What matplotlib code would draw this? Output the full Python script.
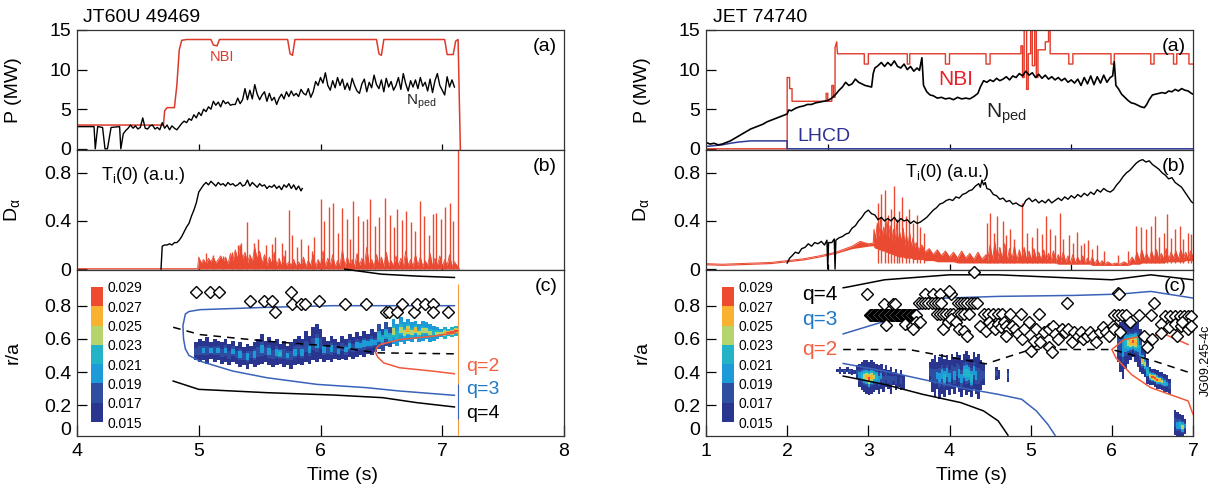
import numpy as np
import matplotlib
matplotlib.use('Agg')
import matplotlib.pyplot as plt
import matplotlib.colorbar as mcolorbar
import matplotlib.transforms as mtransforms
from matplotlib.colors import ListedColormap, BoundaryNorm

plt.rcParams['font.family'] = ['Liberation Sans', 'DejaVu Sans']
plt.rcParams['mathtext.fontset'] = 'custom'
plt.rcParams['mathtext.rm'] = 'Liberation Sans'
plt.rcParams['mathtext.it'] = 'Liberation Sans'
plt.rcParams['mathtext.bf'] = 'Liberation Sans:bold'

RED = '#ea4a32'
NBI_RED = '#dd3a2c'
BLUE_Q3 = '#3a62b8'
RED_Q2 = '#f05a3c'

# ---------------- JT60U 49469 ----------------
jt_nbi_t = [4.00, 4.71, 4.72, 4.74, 4.80, 4.82, 4.84, 4.86, 4.90, 5.10, 5.12, 5.15, 5.17, 5.73, 5.75, 5.77,
            5.79, 6.46, 6.48, 6.50, 6.52, 7.02, 7.04, 7.09, 7.11, 7.13, 7.15]
jt_nbi_p = [3.0, 3.0, 4.8, 5.2, 5.2, 8.0, 12.5, 13.7, 13.8, 13.8, 13.1, 13.0, 13.8, 13.8, 12.0, 11.8,
            13.8, 13.8, 12.0, 11.8, 13.8, 13.8, 11.9, 11.9, 13.6, 13.8, -1.0]

jt_nped_t = [4.00, 4.14, 4.15, 4.17, 4.21, 4.23, 4.25, 4.28, 4.35, 4.36, 4.38, 4.40, 4.42, 4.44, 4.46, 4.48,
             4.50, 4.52, 4.54, 4.56, 4.58, 4.60, 4.62, 4.64, 4.66, 4.68, 4.70, 4.72, 4.74, 4.76, 4.78, 4.80,
             4.82, 4.84, 4.86, 4.88, 4.90, 4.92, 4.94, 4.96, 4.98, 5.00, 5.02, 5.04, 5.06, 5.08, 5.10, 5.12,
             5.14, 5.16, 5.18, 5.20, 5.22, 5.24, 5.26, 5.28, 5.30, 5.32, 5.34, 5.36, 5.38, 5.40, 5.42, 5.44,
             5.46, 5.48, 5.50, 5.52, 5.54, 5.56, 5.58, 5.60, 5.62, 5.64, 5.66, 5.68, 5.70, 5.72, 5.74, 5.76,
             5.78, 5.80, 5.82, 5.84, 5.86, 5.88, 5.90, 5.92, 5.94, 5.96, 5.98, 6.00, 6.02, 6.04, 6.06, 6.08,
             6.10, 6.12, 6.14, 6.16, 6.18, 6.20, 6.22, 6.24, 6.26, 6.28, 6.30, 6.32, 6.34, 6.36, 6.38, 6.40,
             6.42, 6.44, 6.46, 6.48, 6.50, 6.52, 6.54, 6.56, 6.58, 6.60, 6.62, 6.64, 6.66, 6.68, 6.70, 6.72,
             6.74, 6.76, 6.78, 6.80, 6.82, 6.84, 6.86, 6.88, 6.90, 6.92, 6.94, 6.96, 6.98, 7.00, 7.02, 7.04,
             7.06, 7.08, 7.10]
jt_nped_p = [2.8, 2.8, 0.0, 2.8, 2.7, 0.0, 0.0, 2.7, 2.8, 0.0, 1.9, 2.3, 2.6, 3.0, 2.6, 2.9,
             2.5, 2.7, 3.9, 2.6, 2.5, 2.9, 3.0, 2.5, 2.7, 2.4, 3.3, 2.6, 3.0, 2.4, 2.9, 2.6,
             2.4, 2.8, 3.2, 3.5, 3.3, 3.8, 3.6, 4.3, 3.9, 4.6, 4.2, 5.0, 4.7, 5.3, 5.0, 6.0,
             5.5, 5.9, 5.3, 6.1, 5.7, 5.9, 5.5, 5.6, 5.6, 6.4, 5.7, 6.2, 7.6, 6.2, 7.4, 6.3,
             8.1, 6.9, 6.2, 6.8, 7.2, 6.0, 7.0, 6.1, 6.5, 5.6, 6.4, 6.9, 6.3, 7.2, 6.6, 7.3,
             6.7, 7.0, 6.6, 7.5, 7.0, 6.8, 7.6, 6.5, 7.2, 8.5, 8.0, 9.0, 8.3, 9.6, 8.0, 7.4,
             8.6, 7.7, 9.0, 8.0, 8.8, 7.5, 8.3, 7.4, 8.9, 8.0, 7.3, 7.0, 8.2, 8.8, 7.2, 8.4,
             7.7, 9.3, 8.1, 7.6, 8.7, 7.2, 8.9, 7.8, 8.5, 7.4, 8.0, 9.0, 7.5, 9.5, 8.2, 7.3,
             8.6, 7.8, 8.7, 7.6, 9.0, 7.9, 8.4, 7.3, 8.8, 7.1, 8.6, 9.5, 8.0, 7.4, 6.8, 9.1,
             7.8, 8.7, 7.8]

jt_ti_t = [4.69, 4.70, 4.72, 4.74, 4.76, 4.78, 4.80, 4.82, 4.84, 4.86, 4.88, 4.90, 4.92, 4.94, 4.96, 4.98,
           5.00, 5.02, 5.04, 5.06, 5.08, 5.10, 5.12, 5.14, 5.16, 5.18, 5.20, 5.22, 5.24, 5.26, 5.28, 5.30,
           5.32, 5.34, 5.36, 5.38, 5.40, 5.42, 5.44, 5.46, 5.48, 5.50, 5.52, 5.54, 5.56, 5.58, 5.60, 5.62,
           5.64, 5.66, 5.68, 5.70, 5.72, 5.74, 5.76, 5.78, 5.80, 5.82, 5.84, 5.85]
jt_ti_v = [0.0, 0.19, 0.20, 0.20, 0.21, 0.20, 0.22, 0.22, 0.24, 0.27, 0.31, 0.35, 0.38, 0.44, 0.49, 0.55,
           0.64, 0.67, 0.70, 0.72, 0.70, 0.73, 0.71, 0.69, 0.72, 0.70, 0.71, 0.69, 0.72, 0.70, 0.71, 0.69,
           0.70, 0.72, 0.69, 0.70, 0.74, 0.69, 0.72, 0.70, 0.68, 0.71, 0.69, 0.70, 0.67, 0.69, 0.68, 0.70,
           0.67, 0.69, 0.66, 0.70, 0.68, 0.71, 0.67, 0.70, 0.66, 0.69, 0.65, 0.67]

jt_da_t = [4.00, 4.99, 5.00, 5.02, 5.04, 5.06, 5.08, 5.10, 5.12, 5.14, 5.16, 5.18, 5.20, 5.22, 5.24, 5.26,
           5.28, 5.30, 5.32, 5.34, 5.36, 5.38, 5.40, 5.42, 5.44, 5.46, 5.48, 5.50, 5.52, 5.54, 5.56, 5.58,
           5.60, 5.62, 5.64, 5.66, 5.68, 5.70, 5.72, 5.74, 5.76, 5.78, 5.80, 5.82, 5.84, 5.86, 5.88, 5.90,
           5.92, 5.94, 5.96, 5.98, 6.00, 6.02, 6.04, 6.06, 6.08, 6.10, 6.12, 6.14, 6.16, 6.18, 6.20, 6.22,
           6.24, 6.26, 6.28, 6.30, 6.32, 6.34, 6.36, 6.38, 6.40, 6.42, 6.44, 6.46, 6.48, 6.50, 6.52, 6.54,
           6.56, 6.58, 6.60, 6.62, 6.64, 6.66, 6.68, 6.70, 6.72, 6.74, 6.76, 6.78, 6.80, 6.82, 6.84, 6.86,
           6.88, 6.90, 6.92, 6.94, 6.96, 6.98, 7.00, 7.02, 7.04, 7.06, 7.08, 7.10, 7.12, 7.14]
jt_da_v = [0.004, 0.004, 0.10, 0.05, 0.08, 0.04, 0.09, 0.06, 0.10, 0.05, 0.08, 0.11, 0.06, 0.10, 0.04, 0.13,
           0.07, 0.16, 0.08, 0.20, 0.09, 0.14, 0.05, 0.12, 0.06, 0.18, 0.08, 0.15, 0.05, 0.12, 0.03, 0.10,
           0.04, 0.14, 0.03, 0.09, 0.02, 0.11, 0.03, 0.06, 0.03, 0.08, 0.02, 0.06, 0.03, 0.10, 0.02, 0.07,
           0.03, 0.12, 0.02, 0.08, 0.03, 0.15, 0.02, 0.09, 0.03, 0.12, 0.02, 0.07, 0.03, 0.16, 0.02, 0.10,
           0.03, 0.08, 0.02, 0.13, 0.03, 0.09, 0.02, 0.18, 0.03, 0.08, 0.02, 0.12, 0.03, 0.10, 0.02, 0.14,
           0.03, 0.07, 0.02, 0.11, 0.03, 0.09, 0.02, 0.15, 0.03, 0.08, 0.02, 0.12, 0.03, 0.10, 0.02, 0.07,
           0.03, 0.13, 0.02, 0.09, 0.03, 0.11, 0.02, 0.08, 0.03, 0.12, 0.02, 0.06, 0.03, 0.0]

# ELM spikes (time, height)
jt_elm_t = [5.06, 5.12, 5.20, 5.27, 5.32, 5.35, 5.40, 5.45, 5.49, 5.55, 5.60, 5.63, 5.68, 5.71, 5.74, 5.77,
            5.81, 5.84, 5.90, 5.93, 5.95, 6.00, 6.03, 6.07, 6.10, 6.14, 6.18, 6.22, 6.24, 6.27, 6.31, 6.35,
            6.38, 6.41, 6.45, 6.48, 6.53, 6.57, 6.60, 6.63, 6.67, 6.70, 6.74, 6.78, 6.82, 6.85, 6.89, 6.92,
            6.95, 6.99, 7.02, 7.06, 7.09, 7.13]
jt_elm_h = [0.13, 0.12, 0.11, 0.14, 0.20, 0.22, 0.39, 0.22, 0.25, 0.20, 0.21, 0.27, 0.22, 0.16, 0.49, 0.28,
            0.18, 0.25, 0.20, 0.15, 0.27, 0.58, 0.40, 0.52, 0.55, 0.30, 0.51, 0.42, 0.25, 0.57, 0.44, 0.40,
            0.42, 0.58, 0.36, 0.43, 0.59, 0.45, 0.35, 0.50, 0.41, 0.48, 0.39, 0.32, 0.57, 0.44, 0.28, 0.46,
            0.47, 0.42, 0.52, 0.55, 0.40, 1.00]

# mode amplitude columns: time, r/a lower, r/a upper, edge level, core level
jt_mode_t = [4.98, 5.01, 5.04, 5.07, 5.10, 5.13, 5.16, 5.19, 5.22, 5.25, 5.28, 5.31, 5.34, 5.37, 5.40, 5.43,
             5.46, 5.49, 5.52, 5.55, 5.58, 5.61, 5.64, 5.67, 5.70, 5.73, 5.76, 5.79, 5.82, 5.85, 5.88, 5.91,
             5.94, 5.97, 6.00, 6.03, 6.06, 6.09, 6.12, 6.15, 6.18, 6.21, 6.24, 6.27, 6.30, 6.33, 6.36, 6.39,
             6.42, 6.45, 6.48, 6.51, 6.54, 6.57, 6.60, 6.63, 6.66, 6.69, 6.72, 6.75, 6.78, 6.81, 6.84, 6.87,
             6.90, 6.93, 6.96, 6.99, 7.02, 7.05, 7.08, 7.11]
jt_mode_lo = [0.47, 0.46, 0.47, 0.45, 0.48, 0.46, 0.47, 0.45, 0.46, 0.44, 0.46, 0.45, 0.43, 0.44, 0.42, 0.45,
              0.43, 0.44, 0.45, 0.46, 0.44, 0.43, 0.44, 0.45, 0.43, 0.44, 0.42, 0.44, 0.45, 0.44, 0.46, 0.45,
              0.47, 0.46, 0.48, 0.46, 0.47, 0.46, 0.48, 0.47, 0.48, 0.47, 0.49, 0.48, 0.49, 0.50, 0.49, 0.51,
              0.50, 0.52, 0.54, 0.53, 0.56, 0.55, 0.57, 0.56, 0.58, 0.57, 0.59, 0.58, 0.60, 0.58, 0.59, 0.60,
              0.58, 0.59, 0.60, 0.61, 0.60, 0.62, 0.61, 0.62]
jt_mode_hi = [0.58, 0.60, 0.59, 0.61, 0.58, 0.60, 0.59, 0.58, 0.60, 0.57, 0.59, 0.56, 0.58, 0.55, 0.57, 0.56,
              0.58, 0.60, 0.63, 0.59, 0.61, 0.58, 0.60, 0.57, 0.59, 0.56, 0.58, 0.60, 0.62, 0.60, 0.65, 0.62,
              0.67, 0.69, 0.66, 0.61, 0.59, 0.62, 0.60, 0.58, 0.62, 0.60, 0.63, 0.61, 0.64, 0.62, 0.65, 0.63,
              0.66, 0.64, 0.69, 0.66, 0.70, 0.67, 0.72, 0.69, 0.73, 0.70, 0.72, 0.70, 0.71, 0.69, 0.71, 0.70,
              0.69, 0.68, 0.67, 0.66, 0.67, 0.66, 0.67, 0.68]
jt_mode_edge = [0.016] * 50 + [0.018] * 4 + [0.020] * 14 + [0.022] * 4
jt_mode_core = [0.017, 0.018, 0.019, 0.018, 0.019, 0.018, 0.020, 0.018, 0.019, 0.018, 0.019, 0.018, 0.020,
                0.018, 0.019, 0.018, 0.020, 0.018, 0.019, 0.018, 0.019, 0.018, 0.020, 0.021, 0.018, 0.019,
                0.018, 0.019, 0.018, 0.019, 0.018, 0.019, 0.018, 0.019, 0.018, 0.019, 0.018, 0.020, 0.018,
                0.019, 0.018, 0.020, 0.019, 0.018, 0.019, 0.020, 0.019, 0.020, 0.019, 0.020, 0.021, 0.021,
                0.022, 0.021, 0.023, 0.022, 0.024, 0.023, 0.025, 0.024, 0.025, 0.024, 0.023, 0.024, 0.023,
                0.022, 0.023, 0.024, 0.025, 0.027, 0.028, 0.028]

jt_dia_t = [4.98, 5.09, 5.17, 5.42, 5.54, 5.60, 5.63, 5.76, 5.77, 5.84, 5.87, 5.99, 6.20, 6.37, 6.54, 6.56,
            6.63, 6.67, 6.77, 6.79, 6.86, 6.92, 6.92, 7.05]
jt_dia_r = [0.88, 0.88, 0.88, 0.83, 0.83, 0.83, 0.76, 0.88, 0.81, 0.81, 0.81, 0.83, 0.81, 0.81, 0.76, 0.76,
            0.76, 0.81, 0.76, 0.81, 0.81, 0.81, 0.76, 0.76]

# q-surface traces
jt_q3_t = [7.10, 6.65, 6.10, 5.56, 5.01, 4.92, 4.89, 4.87, 4.875, 4.89, 4.92, 5.01, 5.28, 5.56, 5.97, 6.38, 6.65, 7.10]
jt_q3_r = [0.80, 0.80, 0.80, 0.79, 0.776, 0.765, 0.75, 0.68, 0.60, 0.54, 0.50, 0.466, 0.406, 0.366, 0.326, 0.306,
           0.286, 0.26]
jt_q2_t = [7.11, 6.92, 6.65, 6.49, 6.46, 6.45, 6.47, 6.52, 6.65, 6.92, 7.10]
jt_q2_r = [0.636, 0.616, 0.596, 0.566, 0.545, 0.52, 0.49, 0.455, 0.426, 0.406, 0.39]
jt_q4_t = [4.79, 5.00, 5.56, 6.10, 6.51, 6.79, 7.10]
jt_q4_r = [0.346, 0.296, 0.276, 0.262, 0.246, 0.216, 0.19]
jt_q4o_t = [6.20, 6.50, 6.80, 7.10]
jt_q4o_r = [1.02, 0.99, 0.978, 0.97]
jt_q1_t = [4.79, 5.01, 5.56, 6.10, 6.46, 7.11]
jt_q1_r = [0.67, 0.626, 0.586, 0.556, 0.516, 0.51]

# ---------------- JET 74740 ----------------
jet_lh_t = [1.00, 1.10, 1.20, 1.30, 1.40, 1.50, 1.55, 2.00, 2.00, 7.00]
jet_lh_p = [0.3, 0.4, 0.5, 0.7, 0.85, 0.95, 1.0, 1.0, 0.0, 0.0]

jet_nbi_t = [1.00, 2.00, 2.00, 2.03, 2.03, 2.06, 2.06, 2.48, 2.48, 2.50, 2.50, 2.55, 2.55, 2.57, 2.57, 2.59,
             2.59, 2.61, 2.62, 2.95, 2.95, 3.00, 3.00, 3.48, 3.48, 3.51, 3.51, 3.95, 3.95, 4.00, 4.00, 4.45,
             4.45, 4.50, 4.50, 4.88, 4.88, 4.90, 4.90, 4.92, 4.92, 4.95, 4.95, 4.97, 4.97, 5.00, 5.00, 5.02,
             5.02, 5.05, 5.05, 5.07, 5.07, 5.09, 5.09, 5.18, 5.18, 5.22, 5.22, 5.24, 5.24, 5.47, 5.47, 5.52,
             5.52, 5.99, 5.99, 6.03, 6.03, 6.48, 6.48, 6.52, 6.52, 6.76, 6.76, 6.80, 6.80, 6.95, 6.95, 7.00]
jet_nbi_p = [0.0, 0.0, 9.0, 9.0, 7.6, 7.6, 6.0, 6.0, 7.0, 7.0, 6.0, 6.0, 8.0, 8.0, 6.5, 6.5,
             12.8, 13.5, 12.0, 12.0, 10.7, 10.7, 12.0, 12.0, 10.7, 10.7, 12.0, 12.0, 10.7, 10.7, 12.0, 12.0,
             10.7, 10.7, 12.0, 12.0, 13.0, 13.0, 9.0, 9.0, 15.5, 15.5, 7.5, 7.5, 12.0, 12.0, 15.5, 15.5,
             10.5, 10.5, 15.5, 15.5, 9.0, 9.0, 12.5, 12.5, 13.5, 13.5, 15.5, 15.5, 12.0, 12.0, 10.7, 10.7,
             12.0, 12.0, 10.7, 10.7, 12.0, 12.0, 10.7, 10.7, 12.0, 12.0, 10.7, 10.7, 12.0, 12.0, 10.7, 10.7]

jet_nped_t = [1.00, 1.05, 1.10, 1.15, 1.20, 1.25, 1.30, 1.35, 1.40, 1.45, 1.50, 1.55, 1.60, 1.65, 1.70, 1.75,
              1.80, 1.85, 1.90, 1.95, 2.00, 2.02, 2.05, 2.10, 2.15, 2.20, 2.25, 2.30, 2.35, 2.40, 2.45, 2.50,
              2.55, 2.60, 2.64, 2.68, 2.72, 2.76, 2.80, 2.84, 2.88, 2.92, 2.96, 3.00, 3.04, 3.06, 3.08, 3.12,
              3.16, 3.20, 3.24, 3.28, 3.32, 3.36, 3.40, 3.44, 3.48, 3.52, 3.56, 3.60, 3.63, 3.66, 3.68, 3.72,
              3.76, 3.80, 3.85, 3.90, 3.95, 4.00, 4.05, 4.10, 4.15, 4.20, 4.25, 4.30, 4.35, 4.38, 4.42, 4.46,
              4.50, 4.54, 4.58, 4.62, 4.66, 4.70, 4.74, 4.78, 4.82, 4.86, 4.90, 4.94, 4.98, 5.02, 5.06, 5.10,
              5.14, 5.18, 5.22, 5.26, 5.30, 5.34, 5.38, 5.42, 5.46, 5.50, 5.54, 5.58, 5.62, 5.66, 5.70, 5.74,
              5.78, 5.82, 5.86, 5.90, 5.94, 5.98, 6.01, 6.03, 6.05, 6.08, 6.12, 6.16, 6.20, 6.24, 6.28, 6.32,
              6.36, 6.40, 6.43, 6.46, 6.50, 6.54, 6.58, 6.62, 6.66, 6.70, 6.74, 6.78, 6.82, 6.86, 6.90, 6.94,
              6.98, 7.00]
jet_nped_p = [0.8, 0.6, 0.7, 0.5, 0.6, 0.8, 1.0, 1.3, 1.6, 1.9, 2.2, 2.5, 2.7, 2.9, 3.1, 3.4,
              3.6, 3.8, 4.0, 4.2, 4.4, 4.9, 4.8, 5.1, 5.3, 5.4, 5.6, 5.6, 5.8, 5.9, 6.0, 6.1,
              6.4, 6.9, 7.4, 7.8, 8.4, 8.0, 8.2, 8.8, 8.4, 8.2, 8.0, 7.9, 7.8, 9.5, 10.2, 10.5,
              10.9, 10.4, 10.9, 10.5, 11.1, 10.4, 10.2, 10.7, 10.0, 10.4, 9.8, 10.2, 9.9, 11.5, 8.0, 7.2,
              6.8, 6.7, 6.4, 6.5, 6.3, 6.4, 6.2, 6.5, 6.3, 6.4, 6.3, 6.6, 7.0, 7.8, 8.6, 8.4,
              8.7, 8.5, 8.9, 8.6, 8.8, 9.1, 8.7, 9.2, 9.0, 9.5, 9.2, 9.8, 9.3, 9.6, 9.0, 9.4,
              8.9, 9.3, 8.8, 9.1, 8.7, 9.0, 8.6, 8.9, 8.4, 8.7, 8.3, 8.8, 8.0, 9.0, 8.2, 9.2,
              8.1, 9.1, 8.3, 9.3, 8.4, 9.0, 9.2, 11.0, 8.0, 7.6, 6.9, 6.5, 6.1, 5.8, 5.7, 5.5,
              5.3, 5.2, 5.6, 6.2, 6.8, 6.9, 7.0, 7.1, 7.0, 7.3, 7.2, 7.5, 7.3, 7.6, 7.4, 7.3,
              7.0, 6.9]

jet_ti_t = [2.00, 2.03, 2.06, 2.10, 2.14, 2.18, 2.22, 2.26, 2.30, 2.34, 2.38, 2.42, 2.46, 2.49, 2.50, 2.51,
            2.55, 2.58, 2.59, 2.60, 2.64, 2.68, 2.72, 2.76, 2.80, 2.84, 2.88, 2.92, 2.96, 3.00, 3.04, 3.08,
            3.12, 3.16, 3.20, 3.24, 3.28, 3.32, 3.36, 3.40, 3.44, 3.48, 3.52, 3.56, 3.60, 3.64, 3.68, 3.72,
            3.76, 3.80, 3.84, 3.88, 3.92, 3.96, 4.00, 4.04, 4.08, 4.12, 4.16, 4.20, 4.24, 4.28, 4.32, 4.36,
            4.38, 4.40, 4.42, 4.44, 4.46, 4.50, 4.54, 4.58, 4.62, 4.66, 4.70, 4.74, 4.78, 4.82, 4.86, 4.90,
            4.94, 4.98, 5.02, 5.06, 5.10, 5.14, 5.18, 5.22, 5.26, 5.30, 5.34, 5.38, 5.42, 5.46, 5.50, 5.54,
            5.58, 5.62, 5.66, 5.70, 5.74, 5.78, 5.82, 5.86, 5.90, 5.94, 5.98, 6.02, 6.06, 6.10, 6.14, 6.18,
            6.22, 6.26, 6.30, 6.34, 6.38, 6.42, 6.46, 6.50, 6.54, 6.58, 6.62, 6.66, 6.70, 6.74, 6.78, 6.82,
            6.86, 6.90, 6.94, 6.98, 7.00]
jet_ti_v = [0.05, 0.09, 0.11, 0.14, 0.13, 0.17, 0.18, 0.21, 0.19, 0.22, 0.21, 0.23, 0.20, 0.24, 0.0, 0.22,
            0.22, 0.25, 0.0, 0.24, 0.26, 0.27, 0.29, 0.30, 0.34, 0.36, 0.40, 0.43, 0.47, 0.49, 0.46, 0.45,
            0.41, 0.43, 0.40, 0.42, 0.40, 0.43, 0.39, 0.42, 0.40, 0.41, 0.38, 0.40, 0.38, 0.39, 0.41, 0.43,
            0.46, 0.49, 0.51, 0.54, 0.55, 0.57, 0.58, 0.57, 0.60, 0.59, 0.62, 0.63, 0.65, 0.66, 0.69, 0.71,
            0.68, 0.74, 0.70, 0.72, 0.67, 0.66, 0.62, 0.61, 0.58, 0.59, 0.56, 0.57, 0.54, 0.55, 0.53, 0.52,
            0.57, 0.59, 0.56, 0.58, 0.55, 0.57, 0.55, 0.58, 0.55, 0.57, 0.59, 0.57, 0.60, 0.58, 0.61, 0.59,
            0.62, 0.60, 0.63, 0.61, 0.64, 0.62, 0.66, 0.64, 0.67, 0.65, 0.64, 0.66, 0.70, 0.73, 0.77, 0.80,
            0.82, 0.85, 0.88, 0.90, 0.91, 0.89, 0.90, 0.87, 0.85, 0.83, 0.80, 0.78, 0.75, 0.76, 0.72, 0.70,
            0.68, 0.64, 0.60, 0.56, 0.55]

jet_da_t = [1.00, 1.20, 1.40, 1.60, 1.80, 2.00, 2.20, 2.40, 2.60, 2.70, 2.80, 2.90, 3.00, 3.06, 3.07, 3.09,
            3.11, 3.13, 3.15, 3.17, 3.19, 3.21, 3.23, 3.25, 3.27, 3.29, 3.31, 3.33, 3.35, 3.37, 3.39, 3.41,
            3.43, 3.45, 3.47, 3.49, 3.51, 3.53, 3.55, 3.57, 3.59, 3.62, 3.66, 3.70, 3.75, 3.80, 3.85, 3.90,
            3.95, 4.00, 4.05, 4.10, 4.15, 4.20, 4.25, 4.30, 4.35, 4.40, 4.45, 4.47, 4.50, 4.53, 4.56, 4.59,
            4.62, 4.65, 4.68, 4.71, 4.74, 4.77, 4.80, 4.83, 4.86, 4.89, 4.92, 4.95, 4.98, 5.01, 5.04, 5.07,
            5.10, 5.13, 5.16, 5.19, 5.22, 5.25, 5.28, 5.31, 5.34, 5.37, 5.40, 5.43, 5.46, 5.49, 5.52, 5.55,
            5.58, 5.61, 5.64, 5.67, 5.70, 5.73, 5.76, 5.79, 5.82, 5.85, 5.88, 5.91, 5.95, 6.00, 6.05, 6.10,
            6.15, 6.20, 6.25, 6.28, 6.31, 6.34, 6.37, 6.40, 6.43, 6.46, 6.49, 6.52, 6.55, 6.58, 6.61, 6.64,
            6.67, 6.70, 6.73, 6.76, 6.79, 6.82, 6.85, 6.88, 6.91, 6.94, 6.97, 7.00]
jet_da_lo = [0.035, 0.030, 0.035, 0.040, 0.045, 0.060, 0.075, 0.100, 0.130, 0.150, 0.170, 0.180, 0.190, 0.195,
             0.18, 0.17, 0.17, 0.16, 0.16, 0.15, 0.15, 0.14, 0.14, 0.13, 0.13, 0.12, 0.12, 0.11, 0.11, 0.10,
             0.10, 0.10, 0.10, 0.09, 0.09, 0.09, 0.09, 0.09, 0.08, 0.08, 0.08, 0.08, 0.08, 0.07, 0.07, 0.07,
             0.06, 0.06, 0.06, 0.06, 0.06, 0.05, 0.05, 0.05, 0.05, 0.05, 0.05, 0.05, 0.05, 0.05, 0.05, 0.05,
             0.05, 0.05, 0.05, 0.05, 0.05, 0.05, 0.05, 0.05, 0.05, 0.05, 0.05, 0.05, 0.05, 0.05, 0.05, 0.05,
             0.05, 0.05, 0.05, 0.05, 0.05, 0.05, 0.05, 0.05, 0.05, 0.05, 0.04, 0.04, 0.04, 0.04, 0.04, 0.04,
             0.04, 0.04, 0.04, 0.04, 0.04, 0.04, 0.04, 0.04, 0.03, 0.03, 0.03, 0.03, 0.03, 0.03, 0.03, 0.03,
             0.03, 0.03, 0.03, 0.03, 0.04, 0.04, 0.04, 0.04, 0.05, 0.05, 0.05, 0.05, 0.05, 0.05, 0.05, 0.05,
             0.05, 0.05, 0.06, 0.06, 0.06, 0.06, 0.06, 0.06, 0.06, 0.06, 0.07, 0.07, 0.07, 0.07]
jet_da_hi = [0.045, 0.040, 0.045, 0.050, 0.055, 0.070, 0.085, 0.110, 0.140, 0.165, 0.190, 0.230, 0.210, 0.215,
             0.33, 0.25, 0.38, 0.27, 0.42, 0.28, 0.35, 0.27, 0.40, 0.26, 0.36, 0.24, 0.33, 0.23, 0.38, 0.22,
             0.30, 0.21, 0.34, 0.20, 0.28, 0.19, 0.30, 0.18, 0.26, 0.18, 0.22, 0.16, 0.20, 0.14, 0.17, 0.12,
             0.16, 0.11, 0.15, 0.10, 0.14, 0.09, 0.15, 0.09, 0.13, 0.08, 0.14, 0.08, 0.12, 0.07, 0.20, 0.08,
             0.22, 0.07, 0.18, 0.08, 0.21, 0.07, 0.17, 0.08, 0.19, 0.07, 0.16, 0.08, 0.18, 0.07, 0.15, 0.07,
             0.17, 0.08, 0.14, 0.07, 0.16, 0.07, 0.13, 0.06, 0.15, 0.06, 0.12, 0.06, 0.14, 0.06, 0.11, 0.05,
             0.12, 0.05, 0.10, 0.05, 0.11, 0.05, 0.09, 0.05, 0.10, 0.04, 0.08, 0.04, 0.07, 0.04, 0.06, 0.04,
             0.05, 0.04, 0.06, 0.04, 0.10, 0.06, 0.14, 0.07, 0.16, 0.08, 0.13, 0.07, 0.15, 0.08, 0.16, 0.07,
             0.13, 0.08, 0.17, 0.08, 0.14, 0.09, 0.15, 0.08, 0.16, 0.09, 0.14, 0.08, 0.15, 0.10]

jet_elm_t = [3.12, 3.16, 3.21, 3.24, 3.28, 3.32, 3.35, 3.38, 3.42, 3.46, 3.50, 3.55, 3.60, 3.64, 3.69,
             4.46, 4.50, 4.55, 4.59, 4.66, 4.70, 4.75, 4.80, 4.89, 4.95, 5.02, 5.08, 5.14, 5.19, 5.24, 5.30,
             5.36, 5.40, 5.47, 5.52, 5.57, 5.62, 5.66, 5.71, 5.76, 5.82, 5.90, 6.08, 6.20, 6.30, 6.36, 6.42,
             6.48, 6.53, 6.58, 6.64, 6.68, 6.73, 6.78, 6.84, 6.88, 6.94, 6.98]
jet_elm_h = [0.55, 0.62, 0.66, 0.45, 0.50, 0.69, 0.42, 0.48, 0.60, 0.44, 0.50, 0.38, 0.45, 0.35, 0.30,
             0.38, 0.47, 0.30, 0.44, 0.40, 0.28, 0.33, 0.25, 0.55, 0.30, 0.27, 0.34, 0.29, 0.44, 0.33, 0.28,
             0.47, 0.25, 0.28, 0.22, 0.31, 0.20, 0.22, 0.24, 0.17, 0.20, 0.15, 0.12, 0.15, 0.36, 0.35, 0.33,
             0.36, 0.44, 0.27, 0.30, 0.46, 0.26, 0.33, 0.36, 0.25, 0.30, 0.29]

jet_mode_t = [2.62, 2.65, 2.68, 2.71, 2.74, 2.77, 2.80, 2.83, 2.86, 2.89, 2.92, 2.95, 2.98, 3.01, 3.04, 3.07,
              3.10, 3.13, 3.16, 3.19, 3.22, 3.25, 3.28, 3.31, 3.34, 3.37, 3.40, 3.43,
              3.76, 3.79, 3.82, 3.85, 3.88, 3.91, 3.94, 3.97, 4.00, 4.03, 4.06, 4.09, 4.12, 4.15, 4.18, 4.21,
              4.24, 4.27, 4.30, 4.33, 4.36, 4.39, 4.42, 4.58, 4.61, 4.72,
              6.08, 6.11, 6.14, 6.17, 6.20, 6.23, 6.26, 6.29, 6.32, 6.35, 6.38, 6.41, 6.44, 6.47, 6.50, 6.53,
              6.56, 6.59, 6.62, 6.65, 6.68, 6.71, 6.78, 6.81, 6.84, 6.87, 6.90]
jet_mode_lo = [0.40, 0.39, 0.40, 0.39, 0.40, 0.39, 0.38, 0.39, 0.36, 0.31, 0.29, 0.28, 0.27, 0.26, 0.27, 0.28,
               0.29, 0.27, 0.30, 0.28, 0.31, 0.30, 0.27, 0.32, 0.29, 0.31, 0.29, 0.30,
               0.34, 0.28, 0.25, 0.30, 0.24, 0.27, 0.25, 0.29, 0.26, 0.30, 0.27, 0.31, 0.28, 0.25, 0.29, 0.26,
               0.28, 0.25, 0.30, 0.27, 0.24, 0.29, 0.32, 0.35, 0.36, 0.34,
               0.46, 0.40, 0.36, 0.42, 0.45, 0.47, 0.49, 0.46, 0.43, 0.40, 0.39, 0.37, 0.33, 0.32, 0.32, 0.31,
               0.30, 0.30, 0.29, 0.28, 0.28, 0.27, 0.02, 0.00, 0.01, 0.00, 0.03]
jet_mode_hi = [0.42, 0.43, 0.42, 0.42, 0.43, 0.42, 0.42, 0.41, 0.44, 0.45, 0.46, 0.47, 0.47, 0.46, 0.47, 0.46,
               0.45, 0.44, 0.45, 0.42, 0.44, 0.41, 0.43, 0.40, 0.42, 0.39, 0.41, 0.38,
               0.46, 0.48, 0.50, 0.46, 0.49, 0.51, 0.48, 0.50, 0.47, 0.51, 0.49, 0.52, 0.50, 0.47, 0.51, 0.53,
               0.50, 0.48, 0.52, 0.49, 0.51, 0.47, 0.45, 0.43, 0.41, 0.42,
               0.66, 0.70, 0.72, 0.73, 0.70, 0.69, 0.68, 0.70, 0.71, 0.66, 0.55, 0.53, 0.48, 0.43, 0.42, 0.42,
               0.41, 0.40, 0.40, 0.39, 0.38, 0.36, 0.17, 0.16, 0.15, 0.14, 0.12]
jet_mode_edge = [0.016] * 81
jet_mode_core = [0.016, 0.017, 0.016, 0.017, 0.016, 0.017, 0.016, 0.016, 0.018, 0.020, 0.022, 0.024, 0.026,
                 0.027, 0.026, 0.024, 0.022, 0.020, 0.019, 0.018, 0.018, 0.017, 0.018, 0.017, 0.017, 0.016,
                 0.017, 0.016,
                 0.017, 0.018, 0.018, 0.019, 0.019, 0.020, 0.021, 0.020, 0.019, 0.018, 0.019, 0.018, 0.019,
                 0.020, 0.021, 0.022, 0.022, 0.021, 0.020, 0.019, 0.018, 0.017, 0.017, 0.017, 0.016, 0.017,
                 0.017, 0.018, 0.020, 0.022, 0.024, 0.026, 0.027, 0.025, 0.022, 0.020, 0.026, 0.024, 0.022,
                 0.025, 0.027, 0.028, 0.027, 0.025, 0.023, 0.021, 0.019, 0.017, 0.018, 0.020, 0.022, 0.024,
                 0.019]

jet_dia_t = [2.98, 3.19, 3.30, 3.33,
             3.02, 3.035, 3.05, 3.065, 3.08, 3.095, 3.11, 3.125, 3.14, 3.155, 3.17, 3.185, 3.20, 3.215, 3.23,
             3.245, 3.26, 3.275, 3.29, 3.305, 3.32, 3.335, 3.35, 3.365, 3.38, 3.395, 3.41, 3.425, 3.44, 3.455,
             3.47, 3.485, 3.50, 3.515, 3.53, 3.545, 3.56, 3.575, 3.59,
             3.22, 3.45, 3.54, 3.59, 3.64, 3.55,
             3.70, 3.80, 3.88, 4.02, 3.99,
             3.63, 3.66, 3.70, 3.74, 3.78, 3.82, 3.86, 3.90, 4.10, 4.14, 4.18, 4.22, 4.26, 4.30, 4.34,
             3.84, 3.88, 3.92, 3.96, 4.00, 4.04, 4.10, 4.14, 4.18, 4.24, 4.42, 4.47, 4.53, 4.60, 4.65, 4.75,
             4.88, 5.10, 4.30,
             3.92, 3.98, 4.02, 4.08, 4.12, 4.18, 4.22, 4.38, 4.45, 4.49, 4.52, 4.56, 4.60, 4.63, 4.67, 4.70,
             4.73, 4.77, 4.81, 4.85, 4.69, 4.89, 4.92, 4.98, 5.04, 5.06, 5.12, 5.17, 5.22, 5.22, 5.27, 5.30,
             5.34, 5.38, 5.42, 5.46, 5.51, 5.54, 5.58, 5.62, 5.65, 5.69, 5.73, 5.77, 5.81, 5.85, 5.89, 5.93,
             5.97, 6.01, 5.01, 5.26, 5.45,
             6.08, 6.09, 6.52, 6.03, 6.08, 6.12, 6.17, 6.34, 6.48, 6.66, 6.72, 6.78, 6.84, 6.89, 6.94, 6.98,
             6.60, 6.70, 6.78, 6.85, 6.94, 6.80, 6.94, 6.60, 6.03, 6.10, 6.22, 6.40, 6.50, 6.43, 6.87, 6.98]
jet_dia_r = [0.872, 0.812, 0.812, 0.812] + [0.746] * 39 + \
            [0.686, 0.69, 0.68, 0.70, 0.70, 0.66,
             0.872, 0.872, 0.872, 0.872, 0.886] + [0.816] * 15 + [0.75] * 18 + [1.0] + \
            [0.66, 0.70, 0.72, 0.70, 0.66, 0.65, 0.62, 0.68, 0.65, 0.70, 0.68, 0.66, 0.69, 0.67, 0.70, 0.68,
             0.66, 0.68, 0.66, 0.63, 0.62, 0.60, 0.66, 0.70, 0.59, 0.66, 0.58, 0.64, 0.66, 0.55, 0.68, 0.63,
             0.60, 0.66, 0.64, 0.66, 0.58, 0.64, 0.62, 0.64, 0.60, 0.62, 0.64, 0.62, 0.58, 0.64, 0.67, 0.64,
             0.62, 0.68, 0.53, 0.52, 0.816,
             0.876, 0.87, 0.816, 0.746, 0.746, 0.746, 0.746, 0.746, 0.746, 0.74, 0.74, 0.74, 0.74, 0.74, 0.74,
             0.74, 0.69, 0.67, 0.69, 0.68, 0.69, 0.62, 0.66, 0.636, 0.66, 0.64, 0.70, 0.62, 0.60, 0.55, 0.70,
             0.68]

jet_q4_t = [2.69, 2.74, 3.20, 4.00, 4.60, 5.54, 6.00, 6.48, 7.00]
jet_q4_r = [0.908, 0.912, 0.956, 0.986, 0.986, 0.966, 0.956, 0.986, 0.956]
jet_q3u_t = [2.69, 3.20, 3.67, 3.95, 4.60, 5.54, 6.10, 6.48, 7.00]
jet_q3u_r = [0.63, 0.706, 0.786, 0.846, 0.856, 0.862, 0.87, 0.886, 0.846]
jet_q3l_t = [2.69, 3.20, 3.67, 4.14, 4.60, 4.89, 5.07, 5.21, 5.30]
jet_q3l_r = [0.452, 0.406, 0.356, 0.306, 0.266, 0.236, 0.166, 0.086, 0.02]
jet_q4l_t = [2.69, 3.20, 3.67, 4.14, 4.42, 4.60, 4.72]
jet_q4l_r = [0.376, 0.326, 0.266, 0.216, 0.166, 0.106, 0.02]
jet_q1_t = [2.69, 3.50, 4.00, 4.45, 5.00, 6.00, 6.50, 7.00]
jet_q1_r = [0.536, 0.536, 0.49, 0.45, 0.536, 0.536, 0.47, 0.39]
jet_q2_t = [6.94, 6.66, 6.38, 6.15, 6.00, 6.05, 6.24, 6.48, 6.71, 6.94, 7.00]
jet_q2_r = [0.566, 0.626, 0.616, 0.596, 0.536, 0.486, 0.386, 0.306, 0.266, 0.226, 0.146]

levels = [0.015, 0.017, 0.019, 0.021, 0.023, 0.025, 0.027, 0.029]
level_colors = ['#29358e', '#2f4ea2', '#1d9bd8', '#22b4c6', '#b6d46c', '#f8b131', '#ee4a2f']

fig = plt.figure(figsize=(12.13, 4.88), dpi=100)

W = 487 / 1213
xl, xr = 77 / 1213, 706 / 1213
ya, yb, yc = 1 - 150 / 488, 1 - 270 / 488, 1 - 436 / 488
ha, hb, hc = 120 / 488, 120 / 488, 166 / 488


def level_index(v):
    return int(min(6, max(0, np.floor((v - 0.015) / 0.002 + 1e-6))))


def draw_modes(ax, ts, los, his, edges, cores, width=0.032):
    # nested bars: outer band at the edge level, narrower cores at higher levels
    for t, lo, hi, e, c in zip(ts, los, his, edges, cores):
        kb, kp = level_index(e), level_index(c)
        mid, half = 0.5 * (lo + hi), 0.5 * (hi - lo)
        n = kp - kb + 1
        for j in range(n):
            h = half if j == 0 else 0.65 * half * (1 - j / (n + 0.3))
            ax.bar(t, 2 * h, bottom=mid - h, width=width, color=level_colors[kb + j],
                   linewidth=0, zorder=1)


def style(ax, xlim, ylim, xticks, yticks, xlen):
    ax.set_xlim(*xlim)
    ax.set_ylim(*ylim)
    ax.set_xticks(xticks)
    ax.set_yticks(yticks)
    ax.tick_params(axis='x', direction='in', length=xlen, width=0.9, labelsize=14, pad=5)
    ax.tick_params(axis='y', direction='in', length=7, width=0.9, labelsize=14, pad=4)
    for s in ax.spines.values():
        s.set_linewidth(0.9)
        s.set_color('#333333')


def panel_tag(ax, s, y):
    ax.text(0.986, y, s, transform=ax.transAxes, ha='right', va='center', fontsize=14)


def add_colorbar(x0):
    cax = fig.add_axes([x0, 1 - 422 / 488, 12 / 1213, 135 / 488])
    cmap = ListedColormap(level_colors)
    norm = BoundaryNorm(levels, cmap.N)
    cb = mcolorbar.ColorbarBase(cax, cmap=cmap, norm=norm, ticks=levels, orientation='vertical')
    cb.outline.set_visible(False)
    cax.tick_params(length=0, labelsize=10, pad=3)
    cax.set_yticklabels(['%.3f' % v for v in levels])


for col, x0 in enumerate([xl, xr]):
    ax_a = fig.add_axes([x0, ya, W, ha])
    ax_b = fig.add_axes([x0, yb, W, hb])
    ax_c = fig.add_axes([x0, yc, W, hc])

    if col == 0:
        xlim, xt_ab, xt_c = (4, 8), [5, 6, 7], [4, 5, 6, 7, 8]
    else:
        xlim, xt_ab, xt_c = (1, 7), [2.5, 4, 5.5], [1, 2, 3, 4, 5, 6, 7]

    style(ax_a, xlim, (-0.15, 15), xt_ab, [0, 5, 10, 15], 4.5)
    style(ax_b, xlim, (-0.008, 0.99), xt_ab, [0, 0.4, 0.8], 4.5)
    style(ax_c, xlim, (0.015, 1.015), xt_c, [0.2, 0.4, 0.6, 0.8], 8)
    ax_a.set_xticklabels([])
    ax_b.set_xticklabels([])
    ax_b.set_yticklabels(['0', '0.4', '0.8'])
    ax_c.set_xticklabels([str(v) for v in xt_c])
    blend = mtransforms.blended_transform_factory(ax_c.transAxes, ax_c.transData)
    ax_c.text(-0.012, 0.05, '0', transform=blend, ha='right', va='center', fontsize=14)

    ax_a.set_ylabel('P (MW)', fontsize=14)
    ax_b.set_ylabel(r'D$_{\alpha}$', fontsize=14)
    ax_c.set_ylabel('r/a', fontsize=14)
    for ax in (ax_a, ax_b, ax_c):
        ax.yaxis.set_label_coords(-0.113, 0.5)
    ax_c.set_xlabel('Time (s)', fontsize=14)
    ax_c.xaxis.set_label_coords(0.545, -0.185)

    panel_tag(ax_a, '(a)', 0.86)
    panel_tag(ax_b, '(b)', 0.86)
    panel_tag(ax_c, '(c)', 0.90)

    if col == 0:
        fig.text(83 / 1213, 1 - 17 / 488, 'JT60U 49469', fontsize=14, va='center', ha='left')

        ax_a.plot(jt_nbi_t, jt_nbi_p, color=NBI_RED, lw=1.1)
        ax_a.plot(jt_nped_t, jt_nped_p, color='k', lw=1.0)
        ax_a.text(5.19, 11.6, 'NBI', color=NBI_RED, fontsize=10.5, ha='center', va='center')
        ax_a.text(6.70, 5.9, r'N$_{\rm ped}$', color='#222222', fontsize=11, ha='left', va='center')

        ax_b.fill_between(jt_da_t, 0, jt_da_v, color=RED, lw=0, zorder=2)
        ax_b.plot(jt_da_t, jt_da_v, color=RED, lw=0.6, zorder=2)
        ax_b.vlines(jt_elm_t, 0, jt_elm_h, color=RED, lw=1.0, zorder=2)
        ax_b.plot(jt_ti_t, jt_ti_v, color='k', lw=1.0, zorder=3)
        ax_b.text(4.2, 0.78, r'T$_{\rm i}$(0) (a.u.)', fontsize=13, ha='left', va='center')

        draw_modes(ax_c, jt_mode_t, jt_mode_lo, jt_mode_hi, jt_mode_edge, jt_mode_core)
        ax_c.vlines(7.13, 0.02, 0.93, color='#f39a3c', lw=0.8, zorder=2)
        ax_c.vlines(7.13, 0.12, 0.33, color=BLUE_Q3, lw=0.8, zorder=2)
        ax_c.plot(jt_q3_t, jt_q3_r, color=BLUE_Q3, lw=1.1, zorder=3)
        ax_c.plot(jt_q2_t, jt_q2_r, color=RED_Q2, lw=1.1, zorder=3)
        ax_c.plot(jt_q4_t, jt_q4_r, color='k', lw=1.1, zorder=3)
        ax_c.plot(jt_q4o_t, jt_q4o_r, color='k', lw=1.1, zorder=3, clip_on=False)
        ax_c.plot(jt_q1_t, jt_q1_r, color='k', lw=1.1, ls=(0, (5, 4)), zorder=3)
        ax_c.plot(jt_dia_t, jt_dia_r, ls='none', marker='D', ms=6, mfc='white', mec='k', mew=1.0, zorder=4)
        ax_c.text(7.2, 0.436, 'q=2', color='#f2603f', fontsize=14, ha='left', va='center')
        ax_c.text(7.2, 0.296, 'q=3', color='#1f78c8', fontsize=14, ha='left', va='center')
        ax_c.text(7.2, 0.152, 'q=4', color='k', fontsize=14, ha='left', va='center')
        add_colorbar(91 / 1213)
    else:
        fig.text(713 / 1213, 1 - 17 / 488, 'JET 74740', fontsize=14, va='center', ha='left')

        ax_a.plot(jet_nbi_t, jet_nbi_p, color='#e23a2a', lw=1.0)
        ax_a.plot(jet_lh_t, jet_lh_p, color='#2e3a98', lw=1.1)
        ax_a.plot(jet_nped_t, jet_nped_p, color='k', lw=1.2)
        ax_a.text(4.08, 8.8, 'NBI', color='#e8202a', fontsize=15, ha='center', va='center')
        ax_a.text(4.45, 4.4, r'N$_{\rm ped}$', color='#222222', fontsize=15, ha='left', va='center')
        ax_a.text(2.13, 1.6, 'LHCD', color='#2e3192', fontsize=14, ha='left', va='center')

        ax_b.fill_between(jet_da_t, jet_da_lo, jet_da_hi, color=RED, lw=0, zorder=2)
        ax_b.plot(jet_da_t, jet_da_hi, color=RED, lw=0.7, zorder=2)
        ax_b.vlines(jet_elm_t, 0.05, jet_elm_h, color=RED, lw=1.0, zorder=2)
        ax_b.plot(jet_ti_t, jet_ti_v, color='k', lw=1.0, zorder=3)
        ax_b.text(3.45, 0.80, r'T$_{\rm i}$(0) (a.u.)', fontsize=13, ha='left', va='center')

        draw_modes(ax_c, jet_mode_t, jet_mode_lo, jet_mode_hi, jet_mode_edge, jet_mode_core)
        ax_c.plot(jet_q4_t, jet_q4_r, color='k', lw=1.1, zorder=3)
        ax_c.plot(jet_q3u_t, jet_q3u_r, color=BLUE_Q3, lw=1.1, zorder=3)
        ax_c.plot(jet_q3l_t, jet_q3l_r, color=BLUE_Q3, lw=1.1, zorder=3)
        ax_c.plot(jet_q4l_t, jet_q4l_r, color='k', lw=1.1, zorder=3)
        ax_c.plot(jet_q1_t, jet_q1_r, color='k', lw=1.1, ls=(0, (5, 4)), zorder=3)
        ax_c.plot(jet_q2_t, jet_q2_r, color=RED_Q2, lw=1.1, zorder=3)
        ax_c.plot(jet_dia_t, jet_dia_r, ls='none', marker='D', ms=6, mfc='white', mec='k', mew=1.0,
                  zorder=4, clip_on=False)
        ax_c.text(2.62, 0.866, 'q=4', color='k', fontsize=15, ha='right', va='center')
        ax_c.text(2.62, 0.716, 'q=3', color='#1f78c8', fontsize=15, ha='right', va='center')
        ax_c.text(2.62, 0.536, 'q=2', color='#f2603f', fontsize=15, ha='right', va='center')
        add_colorbar(722 / 1213)

fig.text(1206 / 1213, 1 - 360 / 488, 'JG09.245-4c', rotation=90, fontsize=9, ha='center', va='center')

fig.savefig('out.png', dpi=100)
